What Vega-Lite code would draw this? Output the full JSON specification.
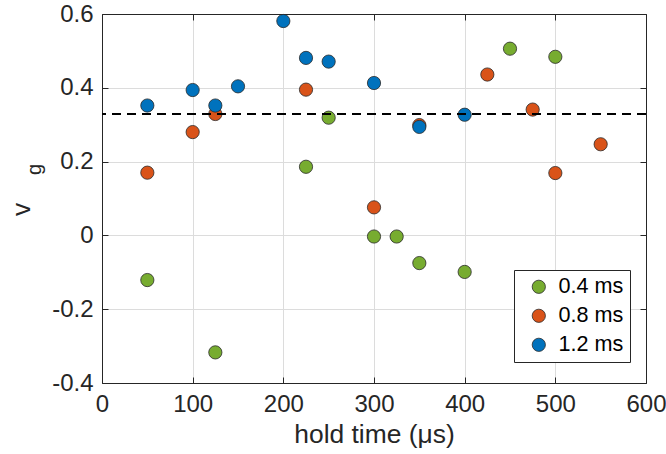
{
  "$schema": "https://vega.github.io/schema/vega-lite/v6.json",
  "width": 544,
  "height": 369,
  "autosize": "none",
  "padding": {"left": 102, "top": 14, "right": 20, "bottom": 71},
  "background": "white",
  "config": {
    "view": {"stroke": null},
    "font": "Liberation Sans",
    "axis": {
      "domainColor": "#262626",
      "domainWidth": 1,
      "tickColor": "#262626",
      "labelColor": "#262626",
      "titleColor": "#262626",
      "labelFont": "Liberation Sans",
      "titleFont": "Liberation Sans",
      "labelFontSize": 24,
      "titleFontSize": 26.4,
      "titleFontWeight": "normal",
      "gridColor": "#dcdcdc",
      "gridWidth": 1,
      "labelFlush": false,
      "labelOverlap": false
    }
  },
  "data": {
    "values": [
      {"t": 50, "v": -0.121, "s": "0.4 ms"},
      {"t": 125, "v": -0.317, "s": "0.4 ms"},
      {"t": 225, "v": 0.186, "s": "0.4 ms"},
      {"t": 250, "v": 0.319, "s": "0.4 ms"},
      {"t": 300, "v": -0.003, "s": "0.4 ms"},
      {"t": 325, "v": -0.003, "s": "0.4 ms"},
      {"t": 350, "v": -0.075, "s": "0.4 ms"},
      {"t": 400, "v": -0.099, "s": "0.4 ms"},
      {"t": 450, "v": 0.506, "s": "0.4 ms"},
      {"t": 500, "v": 0.484, "s": "0.4 ms"},
      {"t": 50, "v": 0.170, "s": "0.8 ms"},
      {"t": 100, "v": 0.280, "s": "0.8 ms"},
      {"t": 125, "v": 0.329, "s": "0.8 ms"},
      {"t": 225, "v": 0.395, "s": "0.8 ms"},
      {"t": 300, "v": 0.076, "s": "0.8 ms"},
      {"t": 350, "v": 0.299, "s": "0.8 ms"},
      {"t": 425, "v": 0.436, "s": "0.8 ms"},
      {"t": 475, "v": 0.341, "s": "0.8 ms"},
      {"t": 500, "v": 0.169, "s": "0.8 ms"},
      {"t": 550, "v": 0.247, "s": "0.8 ms"},
      {"t": 50, "v": 0.352, "s": "1.2 ms"},
      {"t": 100, "v": 0.394, "s": "1.2 ms"},
      {"t": 125, "v": 0.352, "s": "1.2 ms"},
      {"t": 150, "v": 0.404, "s": "1.2 ms"},
      {"t": 200, "v": 0.581, "s": "1.2 ms"},
      {"t": 225, "v": 0.481, "s": "1.2 ms"},
      {"t": 250, "v": 0.471, "s": "1.2 ms"},
      {"t": 300, "v": 0.413, "s": "1.2 ms"},
      {"t": 350, "v": 0.294, "s": "1.2 ms"},
      {"t": 400, "v": 0.327, "s": "1.2 ms"}
    ]
  },
  "resolve": {"axis": {"x": "independent", "y": "independent"}},
  "layer": [
    {
      "mark": {"type": "point", "filled": true, "opacity": 1, "size": 175, "stroke": "#2a2a2a", "strokeWidth": 0.8},
      "encoding": {
        "x": {
          "field": "t", "type": "quantitative",
          "scale": {"domain": [0, 600], "nice": false},
          "axis": {"orient": "bottom", "values": [0, 100, 200, 300, 400, 500, 600], "title": "hold time (μs)", "grid": true, "tickSize": -6, "labelPadding": 15, "titlePadding": 5}
        },
        "y": {
          "field": "v", "type": "quantitative",
          "scale": {"domain": [-0.4, 0.6], "nice": false, "zero": false},
          "axis": {
            "orient": "left",
            "values": [-0.4, -0.2, 0, 0.2, 0.4, 0.6],
            "labelExpr": "datum.value == 0 ? '0' : (datum.value < 0 ? '-' + format(-datum.value, '.1f') : format(datum.value, '.1f'))",
            "grid": true, "tickSize": -6, "labelPadding": 15,
            "title": "v", "titleX": -81, "titleY": 195, "titleAngle": -90, "titleAlign": "center", "titleBaseline": "middle"
          }
        },
        "color": {
          "field": "s", "type": "nominal",
          "scale": {"domain": ["0.4 ms", "0.8 ms", "1.2 ms"], "range": ["#77AC30", "#D95319", "#0072BD"]},
          "legend": {
            "title": null, "orient": "none", "legendX": 412, "legendY": 256,
            "labelFontSize": 21.6, "labelColor": "#000000", "labelFont": "Liberation Sans",
            "symbolSize": 175, "symbolStrokeColor": "#2a2a2a", "symbolStrokeWidth": 0.8,
            "strokeColor": "#262626", "fillColor": "white", "padding": 6,
            "rowPadding": 6, "symbolOffset": 8, "labelOffset": 9
          }
        }
      }
    },
    {
      "mark": {"type": "rule", "color": "#000000", "strokeWidth": 1.5, "strokeDash": [9, 6]},
      "encoding": {
        "y": {"datum": 0.33, "type": "quantitative", "axis": null}
      }
    },
    {
      "mark": {"type": "point", "opacity": 0},
      "encoding": {
        "x": {
          "field": "t", "type": "quantitative",
          "axis": {"orient": "top", "values": [0, 100, 200, 300, 400, 500, 600], "labels": false, "grid": false, "tickSize": -6, "title": null}
        },
        "y": {
          "field": "v", "type": "quantitative",
          "axis": {"orient": "right", "values": [-0.4, -0.2, 0, 0.2, 0.4, 0.6], "labels": false, "grid": false, "tickSize": -6,
            "title": "g", "titleFontSize": 20, "titleX": -612, "titleY": 155, "titleAngle": -90, "titleAlign": "center", "titleBaseline": "middle"}
        }
      }
    }
  ]
}
